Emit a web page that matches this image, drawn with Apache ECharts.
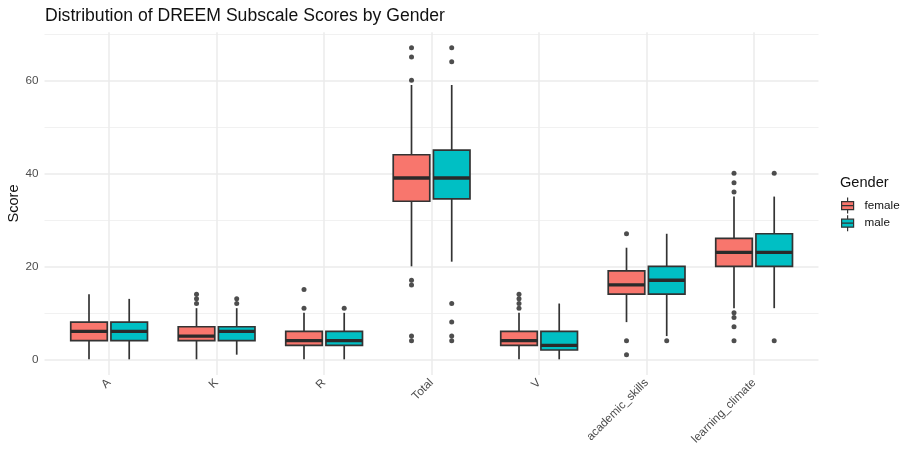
<!DOCTYPE html>
<html><head><meta charset="utf-8">
<script src="https://cdn.jsdelivr.net/npm/echarts@6/dist/echarts.min.js"></script>
<style>html,body{margin:0;padding:0;background:#fff}#c{width:909px;height:450px}</style>
</head><body><div id="c"></div>
<script>
const categories = ['A','K','R','Total','V','academic_skills','learning_climate'];
const genders = ['female','male'];
// [min whisker, Q1, median, Q3, max whisker]
const femaleStats = [[0,4,6,8,14],[0,4,5,7,11],[0,3,4,6,10],[20,34,39,44,59],[0,3,4,6,10],[8,14,16,19,24],[11,20,23,26,35]];
const maleStats   = [[0,4,6,8,13],[1,4,6,7,11],[0,3,4,6,10],[21,34.5,39,45,59],[0,2,3,6,12],[5,14,17,20,27],[11,20,23,27,35]];
// [category index, value]
const femaleOutliers = [[1,12],[1,13],[1,14],[2,11],[2,15],[3,60],[3,65],[3,67],[3,17],[3,16],[3,5],[3,4],[4,11],[4,12],[4,13],[4,14],[5,27],[5,4],[5,1],[6,40],[6,38],[6,36],[6,10],[6,9],[6,7],[6,4]];
const maleOutliers   = [[1,12],[1,13],[2,11],[3,67],[3,64],[3,12],[3,8],[3,5],[3,4],[5,4],[6,40],[6,4]];
const yTicks = [0,20,40,60];
const yMinorTicks = [10,30,50,70];
const yTitle = 'Score';
const colors = {female:'#F8766D', male:'#00BFC4'};
const dodge = {female:-0.186, male:0.188};
const halfW = 0.17;
const FONT = 'Liberation Sans, Arial, Helvetica, sans-serif';
const xTicks = categories.map((c,i)=>i);

const chart = echarts.init(document.getElementById('c'), null, {renderer:'canvas'});

function boxSeries(name, stats){
  const off = dodge[name];
  return {
    name, type:'custom', xAxisIndex:0, yAxisIndex:0,
    itemStyle:{color:colors[name], borderColor:'#333333'},
    encode:{x:0, y:[1,2,3,4,5]},
    data: stats.map((s,i)=>[i, ...s]),
    renderItem(params, api){
      const c = api.value(0) + off;
      const lo = api.value(1), q1 = api.value(2), md = api.value(3), q3 = api.value(4), hi = api.value(5);
      const pL = api.coord([c-halfW, q3]), pR = api.coord([c+halfW, q1]);
      const pC = api.coord([c, md]);
      const pLo = api.coord([c, lo]), pHi = api.coord([c, hi]);
      const pq1 = api.coord([c, q1]), pq3 = api.coord([c, q3]);
      const st = {stroke:'#333333', lineWidth:1.7};
      return {type:'group', children:[
        {type:'line', shape:{x1:pC[0], y1:pHi[1], x2:pC[0], y2:pq3[1]}, style:st},
        {type:'line', shape:{x1:pC[0], y1:pq1[1], x2:pC[0], y2:pLo[1]}, style:st},
        {type:'rect', shape:{x:pL[0], y:pL[1], width:pR[0]-pL[0], height:pR[1]-pL[1]}, style:{fill:colors[name], stroke:'#333333', lineWidth:1.7}},
        {type:'line', shape:{x1:pL[0], y1:pC[1], x2:pR[0], y2:pC[1]}, style:{stroke:'#2a2a2a', lineWidth:3.3}}
      ]};
    }
  };
}
function outlierSeries(name, pts){
  return {
    name: name+' outliers', type:'scatter', symbol:'circle', symbolSize:5,
    itemStyle:{color:'#222222'}, silent:true,
    data: pts.map(p=>[p[0]+dodge[name], p[1]])
  };
}

const legendIcon = 'path://M6,0V4M0,4H12V12H0ZM0,8H12M6,12V16';

chart.setOption({
  animation:false,
  backgroundColor:'#ffffff',
  textStyle:{fontFamily:FONT},
  title:[
    {text:'Distribution of DREEM Subscale Scores by Gender', left:40, top:2, textStyle:{fontSize:17.6, fontWeight:'normal', color:'#111', fontFamily:FONT}},
    {text:'Gender', left:835, top:170, textStyle:{fontSize:14.6, fontWeight:'normal', color:'#111', fontFamily:FONT}}
  ],
  graphic:[
    {type:'text', x:14, y:203.5, rotation:Math.PI/2, silent:true,
     style:{text:yTitle, fill:'#111', font:'14.6px ' + FONT, textAlign:'center', textVerticalAlign:'middle'}}
  ],
  legend:{
    data:genders.map(g=>({name:g, icon:legendIcon, itemStyle:{color:colors[g], borderColor:'#333333', borderWidth:1.2}})),
    orient:'vertical', left:836, top:192, itemWidth:12, itemHeight:16, itemGap:0.4,
    textStyle:{fontSize:11.7, color:'#111', fontFamily:FONT, padding:[0,0,0,6]}, selectedMode:false
  },
  grid:{left:44.5, right:90.5, top:32.2, bottom:75.1, containLabel:false, outerBoundsMode:'none'},
  xAxis:{
    type:'value', min:-0.6, max:6.6,
    axisLine:{show:false}, axisTick:{show:false, customValues:xTicks},
    splitLine:{show:true, showMinLine:true, showMaxLine:true, lineStyle:{color:'#EBEBEB', width:1.5}},
    axisLabel:{customValues:xTicks, rotate:45, margin:6, fontSize:11.7, color:'#4D4D4D', fontFamily:FONT,
      formatter:v=>{const i=Math.round(v); return categories[i]!==undefined ? categories[i] : '';}}
  },
  yAxis:[
    {type:'value', min:-3.35, max:70.35,
     axisLine:{show:false}, axisTick:{show:false, customValues:yTicks},
     splitLine:{show:true, showMinLine:true, showMaxLine:true, lineStyle:{color:'#EBEBEB', width:1.5}},
     axisLabel:{customValues:yTicks, margin:6, fontSize:11.7, color:'#4D4D4D', fontFamily:FONT}},
    {type:'value', min:-3.35, max:70.35, position:'left',
     axisLine:{show:false}, axisTick:{show:false, customValues:yMinorTicks}, axisLabel:{show:false, customValues:yMinorTicks},
     splitLine:{show:true, showMinLine:true, showMaxLine:true, lineStyle:{color:'#EFEFEF', width:0.9}}}
  ],
  series:[
    boxSeries('female', femaleStats),
    boxSeries('male', maleStats),
    outlierSeries('female', femaleOutliers),
    outlierSeries('male', maleOutliers)
  ]
});
</script></body></html>
